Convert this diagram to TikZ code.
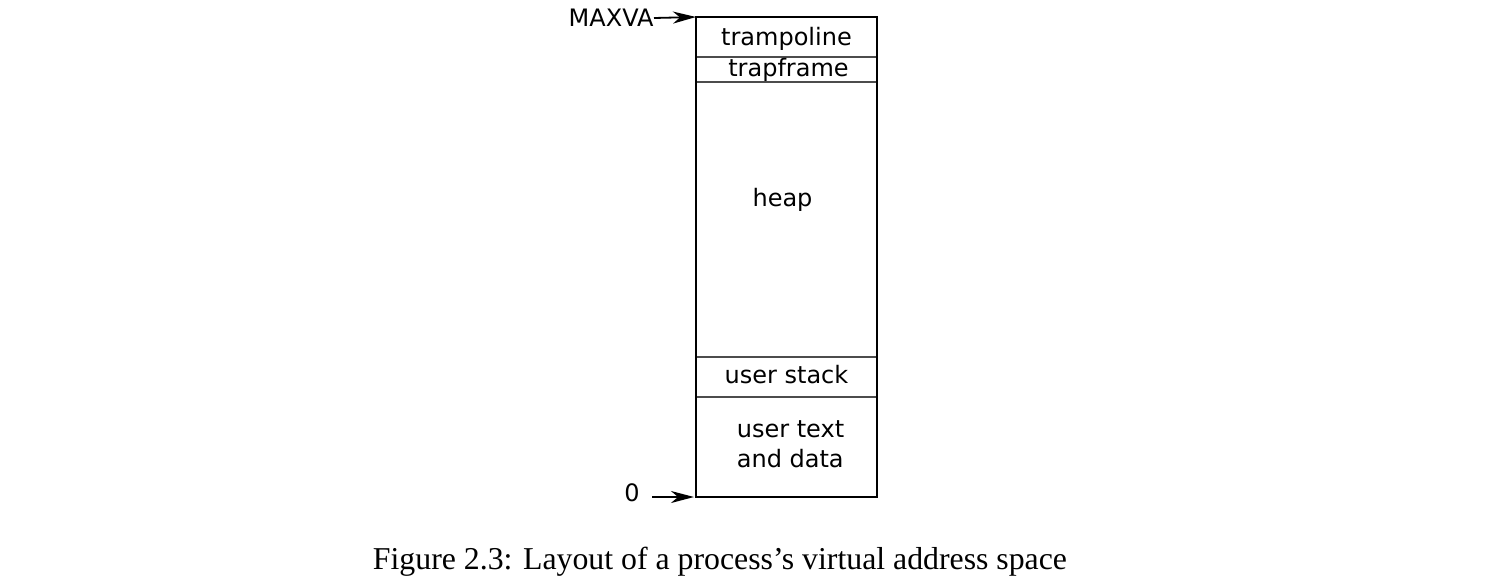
\documentclass[tikz,border=0pt]{standalone}
\usepackage{fontspec}
\setmainfont{Liberation Serif}
\newfontfamily\diagfont{DejaVu Sans}
\usetikzlibrary{positioning, arrows.meta}

\begin{document}
\begin{tikzpicture}[
            x=0.5pt, y=-0.5pt,
            region/.style={draw, black!70, line width=0.6pt,
                minimum width=90.5pt, inner sep=0pt, outer sep=0pt},
            tag/.style={font=\diagfont\fontsize{12}{15}\selectfont, inner sep=0pt},
            pointer/.style={-{Stealth[length=11.5pt, width=6pt, inset=3.5pt]}, line width=0.9pt},
        ]
            \useasboundingbox (0,0) rectangle (1511,585);
            \node[region, minimum height=20pt, anchor=north west] (tramp) at (696,17) {};
            \node[region, minimum height=12.5pt, below=0pt of tramp] (tframe) {};
            \node[region, minimum height=137.5pt, below=0pt of tframe] (heap) {};
            \node[region, minimum height=20pt, below=0pt of heap] (ustack) {};
            \node[region, minimum height=50pt, below=0pt of ustack] (utext) {};
            % outer frame
            \draw[line width=1pt] (tramp.north west) rectangle (utext.south east);

            \node[tag] (ltramp) at ([yshift=-1pt]tramp) {trampoline};
            \node[tag] (ltframe) at ([xshift=1pt]tframe) {trapframe};
            \node[tag] (lheap) at ([xshift=-2pt, yshift=10pt]heap) {heap};
            \node[tag] (lustack) at ([yshift=1pt]ustack) {user stack};
            \node[tag, align=left] (lutext) at ([xshift=2pt, yshift=1.5pt]utext) {user text\\and data};

            \node[tag, anchor=east] (maxva) at (654,18) {MAXVA};
            \draw[pointer] (maxva.east) -- (tramp.north west);
            \node[tag] (zero) at (632,493) {0};
            \coordinate (zstart) at (652,497);
            \draw[pointer, shorten >=1pt] (zstart) -- (utext.south west);

            \node[font=\fontsize{15.9}{18}\selectfont] (caption) at (720,562) {Figure 2.3: Layout of a process’s virtual address space};
        \end{tikzpicture}
\end{document}
